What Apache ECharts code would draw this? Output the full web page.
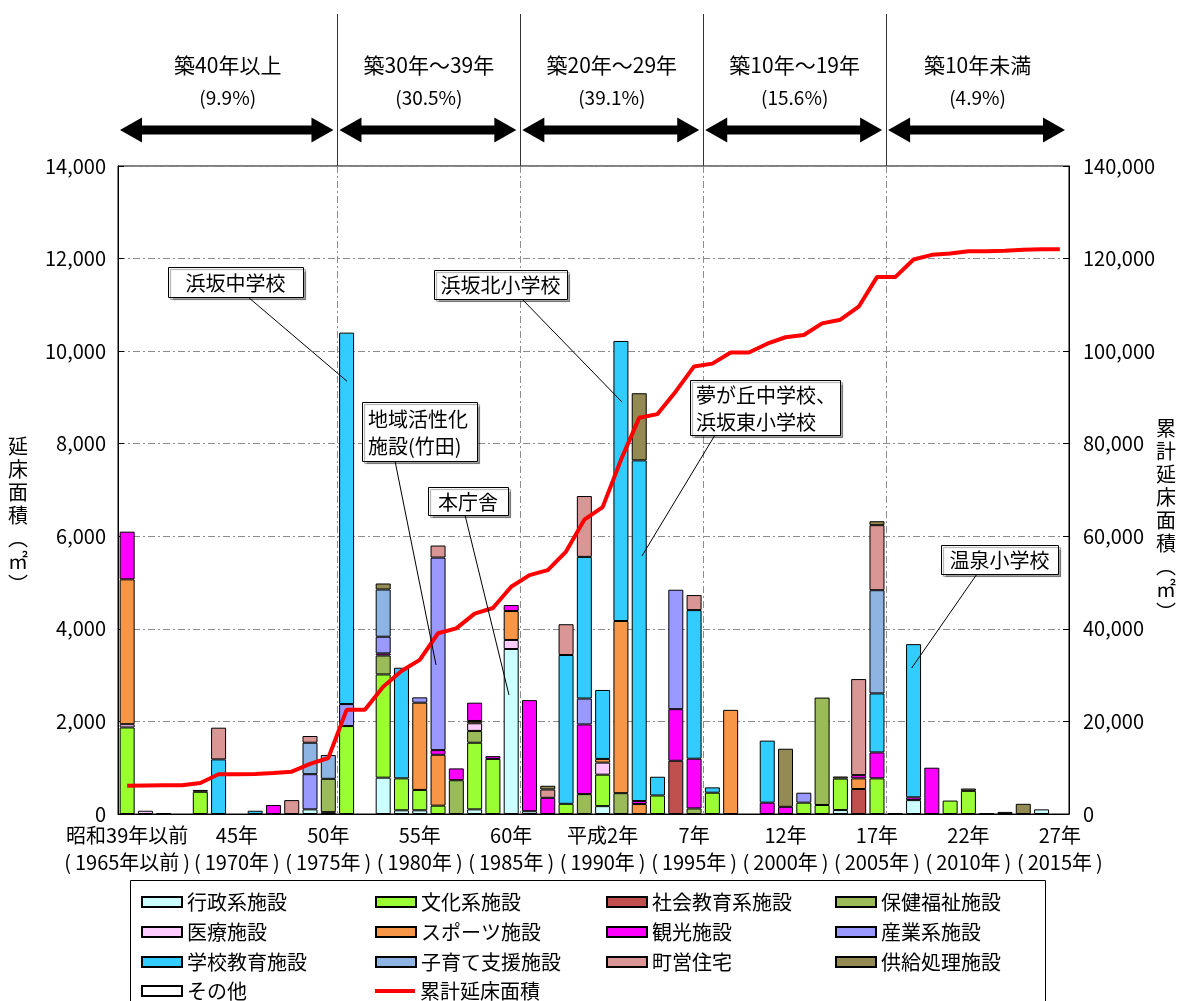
<!DOCTYPE html>
<html>
<head>
<meta charset="utf-8">
<script src="https://cdn.jsdelivr.net/npm/echarts@6/dist/echarts.min.js"></script>
<style>
  html, body { margin: 0; padding: 0; background: #fff; }
  #chart { width: 1181px; height: 1001px; }
</style>
</head>
<body>
<div id="chart"></div>
<script>
// 建築年度別の延床面積（施設類型別）と累計延床面積

const categories = [
  '昭和39年以前','昭和40年','昭和41年','昭和42年','昭和43年','昭和44年','昭和45年','昭和46年','昭和47年','昭和48年',
  '昭和49年','昭和50年','昭和51年','昭和52年','昭和53年','昭和54年','昭和55年','昭和56年','昭和57年','昭和58年',
  '昭和59年','昭和60年','昭和61年','昭和62年','昭和63年','平成元年','平成2年','平成3年','平成4年','平成5年',
  '平成6年','平成7年','平成8年','平成9年','平成10年','平成11年','平成12年','平成13年','平成14年','平成15年',
  '平成16年','平成17年','平成18年','平成19年','平成20年','平成21年','平成22年','平成23年','平成24年','平成25年',
  '平成26年','平成27年'
];

// 軸目盛に表示する年度
const tickIndex = [0, 6, 11, 16, 21, 26, 31, 36, 41, 46, 51];
const tickEra   = ['昭和39年以前','45年','50年','55年','60年','平成2年','7年','12年','17年','22年','27年'];
const tickYear  = ['(\u20091965年以前\u2009)','(\u20091970年\u2009)','(\u20091975年\u2009)','(\u20091980年\u2009)',
                   '(\u20091985年\u2009)','(\u20091990年\u2009)','(\u20091995年\u2009)','(\u20092000年\u2009)',
                   '(\u20092005年\u2009)','(\u20092010年\u2009)','(\u20092015年\u2009)'];

// 施設類型別 延床面積（㎡）
const gyosei = [
  0,0,0,0,0,0,0,0,0,0,
  100,0,0,0,785,80,80,0,0,100,
  0,3565,60,0,0,0,170,0,0,0,
  0,0,0,0,0,0,0,0,0,85,
  0,0,0,300,0,0,0,0,0,0,
  100,0];
const bunka = [
  1870,0,0,0,480,0,0,0,0,0,
  0,0,1900,0,2230,690,440,180,0,1440,
  1190,0,0,0,220,0,680,0,0,400,
  0,0,460,0,0,0,0,245,195,680,
  0,770,0,0,0,290,500,0,0,0,
  0,0];
const shakaiKyoiku = [
  0,0,0,0,40,0,0,0,0,0,
  0,40,0,0,0,0,0,0,0,0,
  0,0,0,0,0,0,0,0,0,0,
  1150,0,0,0,0,0,0,0,0,0,
  540,0,0,0,0,0,0,0,0,0,
  0,0];
const hokenFukushi = [
  0,0,0,0,0,0,0,0,0,0,
  0,720,0,0,410,0,0,0,730,255,
  0,0,0,0,0,430,0,450,0,0,
  0,120,0,0,0,0,0,0,2320,0,
  0,0,0,0,0,0,0,0,0,0,
  0,0];
const iryo = [
  70,70,0,0,0,0,0,0,0,0,
  0,0,0,0,0,0,0,0,0,165,
  0,195,0,0,0,0,260,0,0,0,
  0,0,0,0,0,0,0,0,0,0,
  0,0,0,0,0,0,0,0,0,0,
  0,0];
const sports = [
  3130,0,0,0,0,0,0,0,0,0,
  0,0,0,0,0,0,1885,1100,0,50,
  0,625,0,0,0,0,80,3720,215,0,
  0,0,0,2250,0,0,0,0,0,0,
  230,0,0,0,0,0,0,0,0,0,
  0,0];
const kanko = [
  1030,0,0,0,0,0,0,0,195,0,
  0,0,0,0,45,0,0,100,255,395,
  60,130,2400,350,0,1505,0,0,65,0,
  1115,1075,0,0,0,245,155,0,0,0,
  70,560,0,60,1000,0,0,0,0,0,
  0,0];
const sangyo = [
  0,0,0,0,0,0,0,0,0,0,
  760,0,475,0,360,0,115,4160,0,0,
  0,0,0,0,0,560,0,0,0,0,
  2580,0,0,0,0,0,0,215,0,0,
  0,0,0,0,0,0,0,0,0,0,
  0,0];
const gakko = [
  0,0,0,0,0,1180,0,70,0,0,
  0,0,8025,0,0,2390,0,0,0,0,
  0,0,0,0,3215,3060,1490,6050,7360,405,
  0,3210,115,0,0,1340,0,0,0,0,
  0,1275,0,3310,0,0,0,0,0,0,
  0,0];
const kosodate = [
  0,0,0,0,0,0,0,0,0,0,
  680,515,0,0,1020,0,0,0,0,0,
  0,0,0,0,0,0,0,0,0,0,
  0,0,0,0,0,0,0,0,0,0,
  0,2230,0,0,0,0,0,0,0,0,
  0,0];
const choei = [
  0,0,0,0,0,685,0,0,0,300,
  145,0,0,0,0,0,0,260,0,0,
  0,0,0,180,665,1315,0,0,0,0,
  0,325,0,0,0,0,0,0,0,0,
  2075,1405,0,0,0,0,0,0,0,0,
  0,0];
const kyokyu = [
  0,0,0,0,0,0,0,0,0,0,
  0,0,0,0,130,0,0,0,0,0,
  0,0,0,80,0,0,0,0,1450,0,
  0,0,0,0,0,0,1255,0,0,45,
  0,85,0,0,0,0,50,0,45,220,
  0,0];
const sonota = [
  0,0,15,0,0,0,0,0,0,0,
  0,0,0,0,0,0,0,0,0,0,
  0,0,0,0,0,0,0,0,0,0,
  0,0,0,0,0,0,0,0,0,0,
  0,0,15,0,0,0,0,12,0,0,
  0,0];

// 累計延床面積（㎡）
const cumulative = [
  6100,6170,6190,6190,6710,8580,8580,8650,8840,9140,
  10820,12100,22500,22500,27500,30900,33300,39050,40100,43300,
  44500,49100,51600,52700,56700,63600,66300,76500,85600,86400,
  91300,96700,97300,99700,99700,101600,103000,103500,106000,106800,
  109600,116000,116000,119800,120800,121100,121600,121600,121700,121900,
  122000,122000];

const facilityNames = ['行政系施設','文化系施設','社会教育系施設','保健福祉施設','医療施設','スポーツ施設',
  '観光施設','産業系施設','学校教育施設','子育て支援施設','町営住宅','供給処理施設','その他'];
const facilityValues = [gyosei, bunka, shakaiKyoiku, hokenFukushi, iryo, sports,
  kanko, sangyo, gakko, kosodate, choei, kyokyu, sonota];
const cumulativeName = '累計延床面積';

// 築年数区分
const groupNames  = ['築40年以上','築30年～39年','築20年～29年','築10年～19年','築10年未満'];
const groupShares = ['(9.9%)','(30.5%)','(39.1%)','(15.6%)','(4.9%)'];
const groupBounds = [0, 12, 22, 32, 42, 52];

// 主な施設の注記（対象位置: 年度軸上の位置, 延床面積）
const calloutTexts   = ['浜坂中学校','浜坂北小学校','地域活性化\n施設(竹田)','本庁舎','夢が丘中学校、\n浜坂東小学校','温泉小学校'];
const calloutTargets = [[12.52, 9350], [27.56, 8900], [17.39, 3220], [21.38, 2570], [28.65, 5575], [43.4, 3155]];

const facilityColors = ['#CCFFFF','#99FF33','#C0504D','#9BBB59','#FFCCFF','#F79646',
  '#FF00FF','#9999FF','#33CCFF','#8DB4E2','#DA9694','#948A54','#FFFFFF'];

const FONT = '"Noto Sans CJK JP", "Noto Sans", sans-serif';
const chart = echarts.init(document.getElementById('chart'), null, { renderer: 'canvas' });

const barSeries = facilityNames.map((name, k) => ({
  name: name,
  type: 'bar',
  stack: 'area',
  barWidth: 15,
  xAxisIndex: 0,
  yAxisIndex: 0,
  itemStyle: { color: facilityColors[k], borderColor: '#000', borderWidth: 1 },
  emphasis: { disabled: true },
  data: facilityValues[k].map(v => (v > 0 ? v : null))
}));

// 凡例: 4列×4行の格子に1項目ずつ配置
const legendOrder = [
  '行政系施設','文化系施設','社会教育系施設','保健福祉施設',
  '医療施設','スポーツ施設','観光施設','産業系施設',
  '学校教育施設','子育て支援施設','町営住宅','供給処理施設',
  'その他', cumulativeName
];
const legendCols = [141, 375, 606, 835];
const legendRows = [902, 932, 962, 991];
const legends = legendOrder.map((name, k) => {
  const item = {
    left: legendCols[k % 4],
    top: legendRows[Math.floor(k / 4)] - 10,
    orient: 'horizontal',
    padding: 0,
    selectedMode: false,
    itemWidth: 40,
    itemHeight: 10,
    icon: 'rect',
    textStyle: { fontFamily: FONT, fontSize: 20, color: '#000', lineHeight: 20 },
    data: [name]
  };
  if (name === cumulativeName) {
    item.itemHeight = 4;
    item.itemStyle = { color: '#FF0000', borderWidth: 0 };
  }
  return item;
});

chart.setOption({
  animation: false,
  backgroundColor: '#fff',
  textStyle: { fontFamily: FONT },
  grid: { left: 118, right: 112, top: 166, bottom: 187, show: true, borderColor: '#000', borderWidth: 1, containLabel: false },
  legend: legends,
  xAxis: [
    {
      type: 'category',
      data: categories,
      axisLine: { lineStyle: { color: '#000', width: 1 } },
      axisTick: { show: false },
      splitLine: { show: false },
      axisLabel: {
        interval: (idx) => tickIndex.indexOf(idx) >= 0,
        showMinLabel: true,
        showMaxLabel: true,
        hideOverlap: false,
        formatter: (val, idx) => {
          const p = tickIndex.indexOf(idx);
          return p >= 0 ? tickEra[p] + '\n' + tickYear[p] : '';
        },
        color: '#000', fontFamily: FONT, fontSize: 20, lineHeight: 27, margin: 8
      }
    },
    { type: 'value', min: 0, max: 52, show: false }
  ],
  yAxis: [
    {
      type: 'value', min: 0, max: 14000, interval: 2000,
      axisLine: { show: true, lineStyle: { color: '#000', width: 1 } },
      axisTick: { show: true, inside: true, length: 6, lineStyle: { color: '#000' } },
      axisLabel: { color: '#000', fontFamily: FONT, fontSize: 20, margin: 12,
        formatter: v => v.toLocaleString('en-US') },
      splitLine: { show: true, lineStyle: { color: '#8c8c8c', width: 1, type: [7, 3, 2, 3] } }
    },
    {
      type: 'value', min: 0, max: 140000, interval: 20000, position: 'right',
      axisLine: { show: true, lineStyle: { color: '#000', width: 1 } },
      axisTick: { show: true, inside: true, length: 6, lineStyle: { color: '#000' } },
      axisLabel: { color: '#000', fontFamily: FONT, fontSize: 20, margin: 14,
        formatter: v => v.toLocaleString('en-US') },
      splitLine: { show: false }
    }
  ],
  series: barSeries.concat([{
    name: cumulativeName,
    type: 'line',
    xAxisIndex: 0,
    yAxisIndex: 1,
    data: cumulative,
    symbol: 'none',
    showSymbol: false,
    z: 5,
    lineStyle: { color: '#FF0000', width: 4 },
    itemStyle: { color: '#FF0000' },
    emphasis: { disabled: true }
  }])
});

// 築年数区分の見出し・矢印・区切り線、注記、軸タイトル
function buildOverlay() {
  const toPx = (x, y) => chart.convertToPixel({ xAxisIndex: 1, yAxisIndex: 0 }, [x, y]);
  const plotTop = toPx(0, 14000)[1];
  const plotBottom = toPx(0, 0)[1];
  const g = [];

  for (let k = 1; k < groupBounds.length - 1; k++) {
    const x = Math.round(toPx(groupBounds[k], 0)[0]) + 0.5;
    g.push({ type: 'line', z: 100, silent: true,
      shape: { x1: x, y1: 14, x2: x, y2: plotTop },
      style: { stroke: '#333', lineWidth: 1 } });
    g.push({ type: 'line', z: 1, silent: true,
      shape: { x1: x, y1: plotTop, x2: x, y2: plotBottom },
      style: { stroke: '#8c8c8c', lineWidth: 1, lineDash: [7, 3, 2, 3] } });
  }

  const ay = 130, hl = 22, hh = 12.5, sh = 4.5;
  for (let k = 0; k < groupNames.length; k++) {
    const xa = toPx(groupBounds[k], 0)[0];
    const xb = toPx(groupBounds[k + 1], 0)[0];
    const x0 = xa + 2, x1 = xb - 4;
    g.push({ type: 'polygon', z: 100, silent: true,
      shape: { points: [
        [x0, ay], [x0 + hl, ay - hh], [x0 + hl, ay - sh], [x1 - hl, ay - sh], [x1 - hl, ay - hh],
        [x1, ay], [x1 - hl, ay + hh], [x1 - hl, ay + sh], [x0 + hl, ay + sh], [x0 + hl, ay + hh]
      ] },
      style: { fill: '#000' } });
    const cx = (xa + xb) / 2;
    g.push({ type: 'text', z: 100, silent: true, x: cx, y: 65,
      style: { text: groupNames[k], fill: '#000', font: '21px ' + FONT, align: 'center', verticalAlign: 'middle' } });
    g.push({ type: 'text', z: 100, silent: true, x: cx, y: 98,
      style: { text: groupShares[k], fill: '#000', font: '19px ' + FONT, align: 'center', verticalAlign: 'middle' } });
  }

  // 注記枠の配置
  const boxes  = [[168, 267, 135, 30], [434, 270, 133, 29], [362, 402, 115, 59], [428, 487, 80, 28], [690, 380, 150, 55], [941, 545, 117, 29]];
  const starts = [[248, 297], [522, 299], [395, 461], [465, 515], [715, 435], [977, 574]];
  for (let k = 0; k < calloutTexts.length; k++) {
    const b = boxes[k];
    const end = toPx(calloutTargets[k][0], calloutTargets[k][1]);
    g.push({ type: 'line', z: 101, silent: true,
      shape: { x1: starts[k][0], y1: starts[k][1], x2: end[0], y2: end[1] },
      style: { stroke: '#000', lineWidth: 1 } });
    g.push({ type: 'rect', z: 102, silent: true,
      shape: { x: b[0] + 0.5, y: b[1] + 0.5, width: b[2], height: b[3] },
      style: { fill: '#fff', stroke: '#000', lineWidth: 1, shadowColor: 'rgba(0,0,0,0.35)', shadowOffsetX: 2, shadowOffsetY: 2, shadowBlur: 1 } });
    const multi = calloutTexts[k].indexOf('\n') >= 0;
    g.push({ type: 'text', z: 103, silent: true,
      x: multi ? b[0] + 6 : b[0] + b[2] / 2, y: b[1] + b[3] / 2 + 1,
      style: { text: calloutTexts[k], fill: '#000', font: '20px ' + FONT, lineHeight: 27,
        align: multi ? 'left' : 'center', verticalAlign: 'middle' } });
  }

  // 軸タイトル（縦書き）
  g.push({ type: 'text', z: 100, silent: true, x: 18, y: 515,
    style: { text: '延\n床\n面\n積\n︵\n㎡\n︶', fill: '#000', font: '20px ' + FONT, lineHeight: 23,
      align: 'center', verticalAlign: 'middle' } });
  g.push({ type: 'text', z: 100, silent: true, x: 1166, y: 520,
    style: { text: '累\n計\n延\n床\n面\n積\n︵\n㎡\n︶', fill: '#000', font: '20px ' + FONT, lineHeight: 23,
      align: 'center', verticalAlign: 'middle' } });

  // 凡例枠
  g.push({ type: 'rect', z: 0, silent: true,
    shape: { x: 130.5, y: 880.5, width: 915, height: 140 },
    style: { fill: 'none', stroke: '#000', lineWidth: 1 } });

  chart.setOption({ graphic: g });
}
buildOverlay();
</script>
</body>
</html>
